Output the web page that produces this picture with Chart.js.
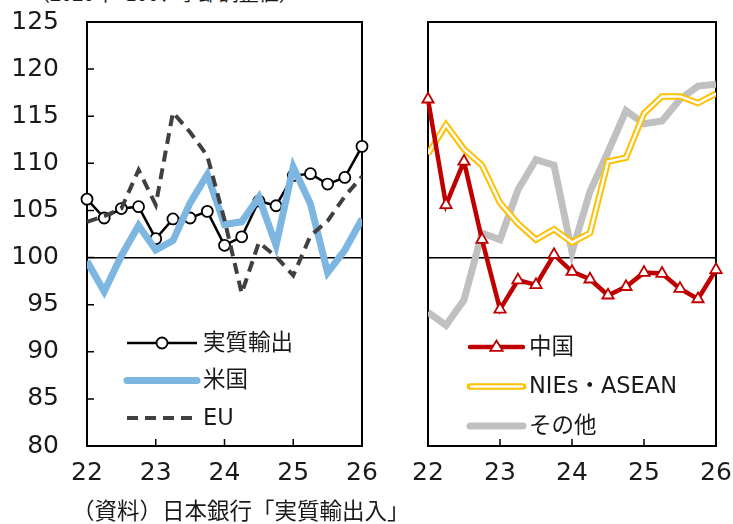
<!DOCTYPE html>
<html lang="ja">
<head>
<meta charset="utf-8">
<script src="https://cdn.jsdelivr.net/npm/chart.js@4.4.1/dist/chart.umd.min.js"></script>
<style>
  body { margin: 0; width: 733px; height: 524px; background: #fff; position: relative; overflow: hidden; font-family: "Noto Sans CJK JP", sans-serif; }
  canvas { position: absolute; top: 0; }
  #left { left: 0; }
  #right { left: 380px; }
  .note { position: absolute; color: #1a1a1a; white-space: nowrap; }
  #unit { left: 30px; top: -17px; font-size: 20px; line-height: 20px; }
  #source { left: 72px; top: 496px; font-size: 22.5px; line-height: 26px; }
</style>
</head>
<body>
<div class="note" id="unit">（2020年=100、季節調整値）</div>
<canvas id="left" width="400" height="524"></canvas>
<canvas id="right" width="353" height="524"></canvas>
<div class="note" id="source">（資料）日本銀行「実質輸出入」</div>
<script>
// 四半期（年の下2桁）
const quarters = [22, 22.25, 22.5, 22.75, 23, 23.25, 23.5, 23.75, 24, 24.25, 24.5, 24.75, 25, 25.25, 25.5, 25.75, 26];
const yearTicks = [22, 23, 24, 25, 26];
const yTicks = [80, 85, 90, 95, 100, 105, 110, 115, 120, 125];

// 左：地域別（先進国）
const realExports = [106.2, 104.2, 105.2, 105.4, 102.0, 104.1, 104.2, 104.9, 101.3, 102.2, 106.0, 105.5, 108.7, 108.9, 107.8, 108.5, 111.8];
const usa = [99.6, 96.4, 100.2, 103.4, 100.8, 101.8, 105.8, 108.8, 103.5, 103.8, 106.4, 101.3, 109.6, 105.7, 98.4, 100.8, 104.1];
const eu = [103.8, 104.4, 105.2, 109.3, 105.6, 115.4, 113.3, 110.8, 104.0, 96.2, 101.6, 100.1, 98.1, 102.3, 103.9, 106.5, 108.6];

// 右：アジアほか
const china = [116.8, 105.6, 110.2, 101.9, 94.5, 97.6, 97.1, 100.3, 98.5, 97.7, 96.0, 96.9, 98.4, 98.3, 96.7, 95.6, 98.7];
const niesAsean = [111.0, 114.1, 111.5, 109.8, 105.8, 103.6, 101.9, 103.0, 101.6, 102.6, 110.2, 110.6, 115.3, 117.1, 117.1, 116.4, 117.4];
const others = [94.2, 92.8, 95.5, 102.6, 101.9, 107.2, 110.4, 109.8, 100.6, 107.0, 111.2, 115.6, 114.2, 114.5, 116.8, 118.2, 118.4];

const FONT = '"DejaVu Sans", "Noto Sans CJK JP", sans-serif';
const pts = vals => vals.map((v, i) => ({ x: quarters[i], y: v }));

// 枠線と内向きの目盛り
const frameTicks = {
  id: 'frameTicks',
  beforeDatasetsDraw(chart, args, opts) {
    const { ctx, chartArea: a, scales } = chart;
    ctx.save();
    ctx.strokeStyle = '#000';
    ctx.lineWidth = 2;
    ctx.strokeRect(a.left, a.top, a.right - a.left, a.bottom - a.top);
    ctx.lineWidth = 1.5;
    ctx.beginPath();
    yearTicks.slice(1, -1).forEach(v => {
      const x = scales.x.getPixelForValue(v);
      ctx.moveTo(x, a.bottom);
      ctx.lineTo(x, a.bottom - 7);
    });
    if (opts.yTicks) {
      yTicks.slice(1, -1).forEach(v => {
        const y = scales.y.getPixelForValue(v);
        ctx.moveTo(a.left, y);
        ctx.lineTo(a.left + 7, y);
      });
    }
    ctx.stroke();
    ctx.restore();
  }
};

// 図中の凡例
function drawMarker(ctx, ds, x, y) {
  const r = ds.pointRadius;
  ctx.fillStyle = ds.pointBackgroundColor;
  ctx.strokeStyle = ds.pointBorderColor;
  ctx.lineWidth = ds.pointBorderWidth;
  ctx.setLineDash([]);
  ctx.beginPath();
  if (ds.pointStyle === 'triangle') {
    ctx.moveTo(x, y - r);
    ctx.lineTo(x + r * 0.95, y + r * 0.6);
    ctx.lineTo(x - r * 0.95, y + r * 0.6);
    ctx.closePath();
  } else {
    ctx.arc(x, y, r, 0, Math.PI * 2);
  }
  ctx.fill();
  ctx.stroke();
}

const boxLegend = {
  id: 'boxLegend',
  afterDraw(chart, args, opts) {
    const { ctx } = chart;
    const sets = chart.data.datasets;
    opts.items.forEach((idx, row) => {
      const y = opts.y + row * opts.gap;
      idx.forEach(i => {
        const ds = sets[i];
        ctx.save();
        ctx.strokeStyle = ds.borderColor;
        ctx.lineWidth = ds.borderWidth;
        ctx.setLineDash(ds.borderDash || []);
        ctx.lineCap = ds.borderDash || ds.borderWidth < 3 ? 'butt' : 'round';
        ctx.beginPath();
        ctx.moveTo(opts.x0, y);
        ctx.lineTo(opts.x1, y);
        ctx.stroke();
        if (ds.pointRadius > 0) drawMarker(ctx, ds, (opts.x0 + opts.x1) / 2, y);
        ctx.restore();
      });
      ctx.save();
      ctx.fillStyle = '#1a1a1a';
      ctx.font = '22.5px ' + FONT;
      ctx.textBaseline = 'middle';
      ctx.fillText(sets[idx[0]].label, opts.textX, y + 1);
      ctx.restore();
    });
  }
};

function makeOptions(axisWidth, rightPad, showY, legend) {
  return {
    responsive: false,
    animation: false,
    layout: { padding: { top: 22, right: rightPad, left: 0, bottom: 0 } },
    plugins: {
      legend: { display: false },
      tooltip: { enabled: false },
      frameTicks: { yTicks: showY },
      boxLegend: legend
    },
    elements: { line: { tension: 0 } },
    scales: {
      x: {
        type: 'linear', min: 22, max: 26,
        afterBuildTicks: s => { s.ticks = yearTicks.map(v => ({ value: v })); },
        afterFit: s => { s.height = 78; s.paddingLeft = 0; s.paddingRight = 0; },
        grid: { display: false },
        border: { display: false },
        ticks: { color: '#1a1a1a', font: { family: FONT, size: 25 }, padding: 4, maxRotation: 0 }
      },
      y: {
        min: 80, max: 125,
        afterBuildTicks: s => { s.ticks = yTicks.map(v => ({ value: v })); },
        afterFit: s => { s.width = axisWidth; s.paddingTop = 0; s.paddingBottom = 0; },
        grid: {
          drawTicks: false,
          lineWidth: 1.5,
          color: c => (c.tick && c.tick.value === 100 ? '#000' : 'rgba(0,0,0,0)')
        },
        border: { display: false },
        ticks: { display: showY, color: '#1a1a1a', font: { family: FONT, size: 25 }, padding: 28 }
      }
    }
  };
}

new Chart(document.getElementById('left'), {
  type: 'line',
  data: {
    datasets: [
      { label: 'EU', data: pts(eu), order: 0, borderColor: '#404040', borderWidth: 4, borderDash: [11, 7], pointRadius: 0 },
      { label: '米国', data: pts(usa), order: 1, borderColor: '#7db6e0', borderWidth: 7, pointRadius: 0 },
      { label: '実質輸出', data: pts(realExports), order: 2, clip: false, borderColor: '#000', borderWidth: 2.5,
        pointRadius: 5.5, pointBorderWidth: 1.8, pointBackgroundColor: '#fff', pointBorderColor: '#000' }
    ]
  },
  options: makeOptions(87, 38, true, { items: [[2], [1], [0]], x0: 127, x1: 197, textX: 203, y: 343, gap: 37.5 }),
  plugins: [frameTicks, boxLegend]
});

new Chart(document.getElementById('right'), {
  type: 'line',
  data: {
    datasets: [
      { label: '中国', data: pts(china), order: 0, clip: false, borderColor: '#c00000', borderWidth: 4.5,
        pointStyle: 'triangle', pointRadius: 6.5, pointBorderWidth: 1.8, pointBackgroundColor: '#fff', pointBorderColor: '#c00000' },
      { label: 'NIEs・ASEAN', data: pts(niesAsean), order: 1, borderColor: '#fff', borderWidth: 2.5, pointRadius: 0 },
      { label: 'NIEs・ASEAN', data: pts(niesAsean), order: 2, borderColor: '#ffc000', borderWidth: 6.5, pointRadius: 0 },
      { label: 'その他', data: pts(others), order: 3, borderColor: '#c0c0c0', borderWidth: 7, pointRadius: 0 }
    ]
  },
  options: makeOptions(48, 17, false, { items: [[0], [2, 1], [3]], x0: 90, x1: 143, textX: 149, y: 347, gap: 39.5 }),
  plugins: [frameTicks, boxLegend]
});
</script>
</body>
</html>
